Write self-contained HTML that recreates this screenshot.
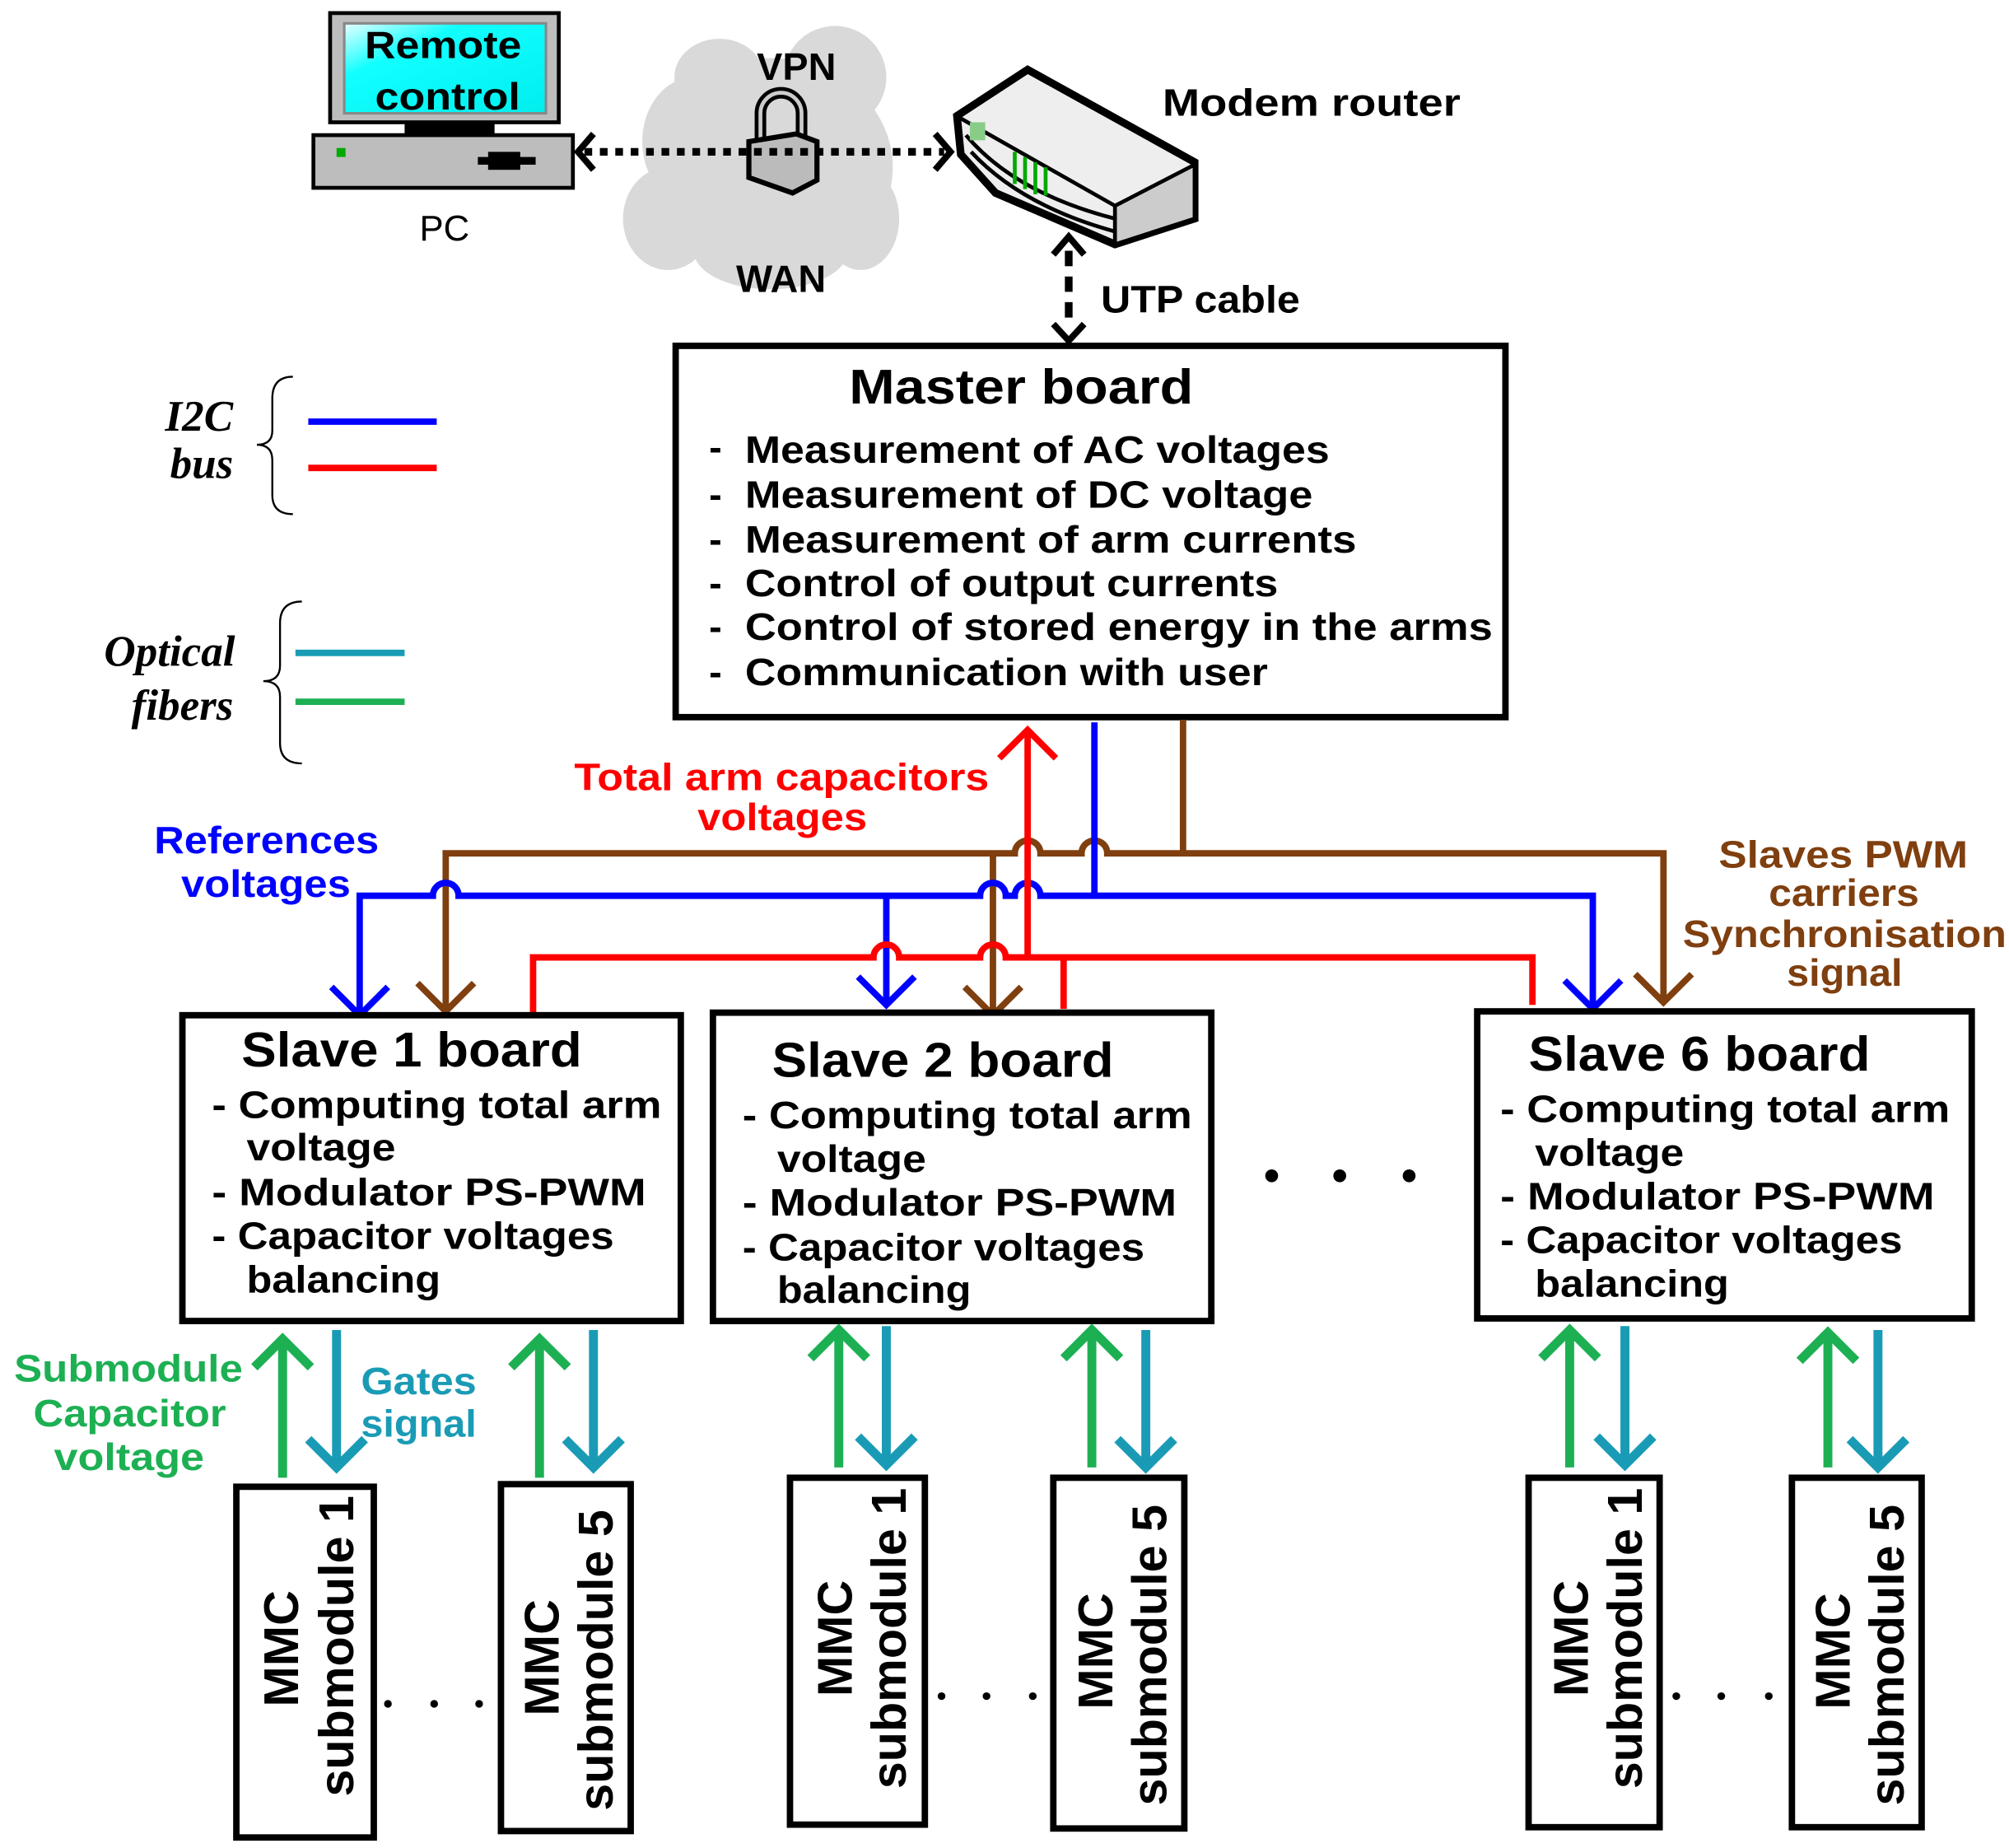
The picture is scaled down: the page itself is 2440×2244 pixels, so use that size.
<!DOCTYPE html>
<html><head><meta charset="utf-8"><style>
html,body{margin:0;padding:0;background:#fff;}
svg{display:block;}
text{font-family:"Liberation Sans",sans-serif;font-weight:bold;}
</style></head><body>
<svg width="2440" height="2244" viewBox="0 0 1564 1438" xmlns="http://www.w3.org/2000/svg">
<defs>
<linearGradient id="scr" x1="0" y1="0" x2="1" y2="1"><stop offset="0" stop-color="#e8ffff"/><stop offset="0.3" stop-color="#1ff"/><stop offset="1" stop-color="#0ee"/></linearGradient>
</defs>
<g fill="#d9d9d9">
<ellipse cx="600" cy="130" rx="95" ry="85"/>
<ellipse cx="540" cy="110" rx="40" ry="50"/>
<ellipse cx="650" cy="60" rx="40" ry="40"/>
<ellipse cx="520" cy="170" rx="35" ry="40"/>
<ellipse cx="600" cy="195" rx="60" ry="30"/>
<ellipse cx="670" cy="170" rx="30" ry="40"/>
<ellipse cx="560" cy="60" rx="35" ry="30"/>
</g>
<rect x="257" y="10" width="178" height="85" fill="#bdbdbd" stroke="#000" stroke-width="3"/>
<rect x="268" y="18" width="157" height="70" fill="url(#scr)" stroke="#888" stroke-width="2"/>
<text x="284" y="45" font-size="30" textLength="122" lengthAdjust="spacingAndGlyphs">Remote</text>
<text x="292" y="85" font-size="30" textLength="113" lengthAdjust="spacingAndGlyphs">control</text>
<rect x="315" y="95" width="70" height="9" fill="#000"/>
<rect x="244" y="105" width="202" height="41" fill="#bdbdbd" stroke="#000" stroke-width="3"/>
<rect x="262" y="115" width="7" height="7" fill="#0a0"/>
<rect x="372" y="122" width="45" height="6" fill="#000"/><rect x="380" y="118" width="25" height="14" fill="#000"/>
<text x="346" y="187" font-size="28" style="font-weight:normal" text-anchor="middle">PC</text>
<text x="620" y="62" font-size="30" text-anchor="middle">VPN</text>
<text x="608" y="227" font-size="30" text-anchor="middle">WAN</text>
<path d="M592 108 V88 a16 16 0 0 1 32 0 V108" fill="none" stroke="#000" stroke-width="9"/>
<path d="M592 108 V88 a16 16 0 0 1 32 0 V108" fill="none" stroke="#ccc" stroke-width="3"/>
<path d="M583 110 L620 104 L636 110 V140 L617 150 L583 138 Z" fill="#bbb" stroke="#000" stroke-width="4"/>
<line x1="455" y1="118" x2="735" y2="118" stroke="#000" stroke-width="6" stroke-dasharray="6,6"/>
<polyline points="462,104 450,118 462,132" fill="none" stroke="#000" stroke-width="5"/>
<polyline points="728,104 740,118 728,132" fill="none" stroke="#000" stroke-width="5"/>
<path d="M745 90 L800 54 L930 126 L930 170 L868 190 L775 150 L748 120 Z" fill="#eee" stroke="#000" stroke-width="6"/>
<path d="M748 92 L868 160 L930 130" fill="none" stroke="#000" stroke-width="3"/>
<path d="M868 160 L930 128 L930 170 L868 190 Z" fill="#ccc" stroke="#000" stroke-width="3"/>
<path d="M752 105 Q790 150 868 170 M756 118 Q795 160 868 180" fill="none" stroke="#000" stroke-width="3"/>
<rect x="755" y="95" width="12" height="14" fill="#8c8"/>
<path d="M790 118 v25 M798 122 v25 M806 126 v25 M814 130 v22" stroke="#0a0" stroke-width="3"/>
<text x="905" y="90" font-size="30" textLength="232" lengthAdjust="spacingAndGlyphs">Modem router</text>
<line x1="832" y1="195" x2="832" y2="255" stroke="#000" stroke-width="6" stroke-dasharray="12,8"/>
<polyline points="820,198 832,184 844,198" fill="none" stroke="#000" stroke-width="5"/>
<polyline points="820,252 832,265 844,252" fill="none" stroke="#000" stroke-width="5"/>
<text x="857" y="243" font-size="30" textLength="155" lengthAdjust="spacingAndGlyphs">UTP cable</text>
<rect x="526" y="269" width="646" height="289" fill="#fff" stroke="#000" stroke-width="5"/>
<text x="661" y="314" font-size="38" textLength="268" lengthAdjust="spacingAndGlyphs">Master board</text>
<g font-size="30">
<text x="552" y="358">-</text><text x="580" y="360" textLength="455" lengthAdjust="spacingAndGlyphs">Measurement of AC voltages</text>
<text x="552" y="395">-</text><text x="580" y="395" textLength="442" lengthAdjust="spacingAndGlyphs">Measurement of DC voltage</text>
<text x="552" y="430">-</text><text x="580" y="430" textLength="476" lengthAdjust="spacingAndGlyphs">Measurement of arm currents</text>
<text x="552" y="464">-</text><text x="580" y="464" textLength="415" lengthAdjust="spacingAndGlyphs">Control of output currents</text>
<text x="552" y="498">-</text><text x="580" y="498" textLength="582" lengthAdjust="spacingAndGlyphs">Control of stored energy in the  arms</text>
<text x="552" y="533">-</text><text x="580" y="533" textLength="407" lengthAdjust="spacingAndGlyphs">Communication with user</text>
</g>
<g font-style="italic" font-size="34" text-anchor="middle" style="font-family:'Liberation Serif',serif">
<text x="155" y="335" style="font-family:'Liberation Serif',serif">I2C</text>
<text x="157" y="372" style="font-family:'Liberation Serif',serif">bus</text>
<text x="132" y="518" style="font-family:'Liberation Serif',serif">Optical</text>
<text x="142" y="560" style="font-family:'Liberation Serif',serif">fibers</text>
</g>
<path d="M228 293 Q212 293 212 310 V335 Q212 346 200 346 Q212 346 212 358 V385 Q212 400 228 400" fill="none" stroke="#000" stroke-width="1.5"/>
<path d="M235 468 Q218 468 218 485 V518 Q218 530 205 530 Q218 530 218 542 V578 Q218 594 235 594" fill="none" stroke="#000" stroke-width="1.5"/>
<line x1="240" y1="328" x2="340" y2="328" stroke="#00f" stroke-width="5"/>
<line x1="240" y1="364" x2="340" y2="364" stroke="#f00" stroke-width="5"/>
<line x1="230" y1="508" x2="315" y2="508" stroke="#1a9bb5" stroke-width="5"/>
<line x1="230" y1="546" x2="315" y2="546" stroke="#1db053" stroke-width="5"/>
<g fill="#f00" font-size="30"><text x="447" y="615" textLength="323" lengthAdjust="spacingAndGlyphs">Total arm capacitors</text><text x="543" y="646" textLength="132" lengthAdjust="spacingAndGlyphs">voltages</text></g>
<g fill="#00f" font-size="30"><text x="120" y="664" textLength="175" lengthAdjust="spacingAndGlyphs">References</text><text x="141" y="698" textLength="132" lengthAdjust="spacingAndGlyphs">voltages</text></g>
<g fill="#7f3f0f" font-size="30"><text x="1338" y="675" textLength="194" lengthAdjust="spacingAndGlyphs">Slaves PWM</text><text x="1377" y="705" textLength="117" lengthAdjust="spacingAndGlyphs">carriers</text><text x="1310" y="737" textLength="252" lengthAdjust="spacingAndGlyphs">Synchronisation</text><text x="1391" y="767" textLength="90" lengthAdjust="spacingAndGlyphs">signal</text></g>
<g fill="none" stroke="#7f3f0f" stroke-width="5">
<path d="M921 560 V664 M347 785 V664 H790 a10 10 0 0 1 20 0 H842 a10 10 0 0 1 20 0 H1295 V778 M773 664 V788"/>
<polyline points="325,765 347,787 369,765"/><polyline points="751,768 773,790 795,768"/><polyline points="1273,758 1295,780 1317,758"/>
</g>
<g fill="none" stroke="#00f" stroke-width="5">
<path d="M852 562 V697 M280 790 V697 H337 a10 10 0 0 1 20 0 H763 a10 10 0 0 1 20 0 H790 a10 10 0 0 1 20 0 H1240 V785 M690 697 V782"/>
<polyline points="258,768 280,790 302,768"/><polyline points="668,760 690,782 712,760"/><polyline points="1218,763 1240,785 1262,763"/>
</g>
<g fill="none" stroke="#f00" stroke-width="5">
<path d="M415 790 V745 H680 a10 10 0 0 1 20 0 H763 a10 10 0 0 1 20 0 H1193 V782 M828 745 V785 M800 745 V570"/>
<polyline points="778,590 800,568 822,590"/>
</g>
<g fill="#fff" stroke="#000" stroke-width="5">
<rect x="142" y="790" width="388" height="238"/>
<rect x="555" y="788" width="388" height="240"/>
<rect x="1150" y="787" width="385" height="239"/>
</g>
<g font-size="30">
<text x="188" y="830" font-size="38" textLength="265" lengthAdjust="spacingAndGlyphs">Slave 1 board</text>
<text x="165" y="870" textLength="350" lengthAdjust="spacingAndGlyphs">- Computing total arm</text><text x="192" y="903" textLength="116" lengthAdjust="spacingAndGlyphs">voltage</text>
<text x="165" y="938" textLength="338" lengthAdjust="spacingAndGlyphs">- Modulator PS-PWM</text><text x="165" y="972" textLength="313" lengthAdjust="spacingAndGlyphs">- Capacitor voltages</text><text x="192" y="1006" textLength="151" lengthAdjust="spacingAndGlyphs">balancing</text>
<text x="601" y="838" font-size="38" textLength="266" lengthAdjust="spacingAndGlyphs">Slave 2 board</text>
<text x="578" y="878" textLength="350" lengthAdjust="spacingAndGlyphs">- Computing total arm</text><text x="605" y="912" textLength="116" lengthAdjust="spacingAndGlyphs">voltage</text>
<text x="578" y="946" textLength="338" lengthAdjust="spacingAndGlyphs">- Modulator PS-PWM</text><text x="578" y="981" textLength="313" lengthAdjust="spacingAndGlyphs">- Capacitor voltages</text><text x="605" y="1014" textLength="151" lengthAdjust="spacingAndGlyphs">balancing</text>
<text x="1190" y="833" font-size="38" textLength="266" lengthAdjust="spacingAndGlyphs">Slave 6 board</text>
<text x="1168" y="873" textLength="350" lengthAdjust="spacingAndGlyphs">- Computing total arm</text><text x="1195" y="907" textLength="116" lengthAdjust="spacingAndGlyphs">voltage</text>
<text x="1168" y="941" textLength="338" lengthAdjust="spacingAndGlyphs">- Modulator PS-PWM</text><text x="1168" y="975" textLength="313" lengthAdjust="spacingAndGlyphs">- Capacitor voltages</text><text x="1195" y="1009" textLength="151" lengthAdjust="spacingAndGlyphs">balancing</text>
</g>
<g fill="#000"><circle cx="990" cy="915" r="5"/><circle cx="1043" cy="915" r="5"/><circle cx="1097" cy="915" r="5"/></g>
<g fill="none" stroke-width="7">
<g stroke="#1db053">
<path d="M220 1150 V1042 M198 1064 L220 1042 L242 1064"/>
<path d="M420 1150 V1042 M398 1064 L420 1042 L442 1064"/>
<path d="M653 1142 V1035 M631 1057 L653 1035 L675 1057"/>
<path d="M850 1142 V1035 M828 1057 L850 1035 L872 1057"/>
<path d="M1222 1142 V1035 M1200 1057 L1222 1035 L1244 1057"/>
<path d="M1423 1142 V1037 M1401 1059 L1423 1037 L1445 1059"/>
</g>
<g stroke="#1a9bb5">
<path d="M262 1035 V1142 M240 1120 L262 1142 L284 1120"/>
<path d="M462 1035 V1142 M440 1120 L462 1142 L484 1120"/>
<path d="M690 1032 V1140 M668 1118 L690 1140 L712 1118"/>
<path d="M892 1035 V1142 M870 1120 L892 1142 L914 1120"/>
<path d="M1265 1032 V1140 M1243 1118 L1265 1140 L1287 1118"/>
<path d="M1462 1035 V1142 M1440 1120 L1462 1142 L1484 1120"/>
</g>
</g>
<g font-size="30">
<g fill="#1db053"><text x="11" y="1075" textLength="178" lengthAdjust="spacingAndGlyphs">Submodule</text><text x="26" y="1110" textLength="150" lengthAdjust="spacingAndGlyphs">Capacitor</text><text x="42" y="1144" textLength="117" lengthAdjust="spacingAndGlyphs">voltage</text></g>
<g fill="#1a9bb5"><text x="281" y="1085" textLength="90" lengthAdjust="spacingAndGlyphs">Gates</text><text x="281" y="1118" textLength="90" lengthAdjust="spacingAndGlyphs">signal</text></g>
</g>
<g fill="#fff" stroke="#000" stroke-width="5">
<rect x="184" y="1157" width="107" height="273"/><rect x="390" y="1155" width="101" height="270"/>
<rect x="615" y="1150" width="105" height="270"/><rect x="820" y="1150" width="102" height="273"/>
<rect x="1190" y="1150" width="102" height="272"/><rect x="1395" y="1150" width="101" height="272"/>
</g>
<g font-size="38" text-anchor="middle">
<text transform="translate(232,1283) rotate(-90)">MMC</text><text transform="translate(275,1281) rotate(-90)">submodule 1</text>
<text transform="translate(435,1290) rotate(-90)">MMC</text><text transform="translate(477,1292) rotate(-90)">submodule 5</text>
<text transform="translate(663,1275) rotate(-90)">MMC</text><text transform="translate(705,1275) rotate(-90)">submodule 1</text>
<text transform="translate(866,1285) rotate(-90)">MMC</text><text transform="translate(908,1288) rotate(-90)">submodule 5</text>
<text transform="translate(1236,1275) rotate(-90)">MMC</text><text transform="translate(1278,1275) rotate(-90)">submodule 1</text>
<text transform="translate(1440,1285) rotate(-90)">MMC</text><text transform="translate(1482,1288) rotate(-90)">submodule 5</text>
</g>
<g fill="#000">
<circle cx="302" cy="1326" r="3"/><circle cx="338" cy="1326" r="3"/><circle cx="373" cy="1326" r="3"/>
<circle cx="733" cy="1320" r="3"/><circle cx="768" cy="1320" r="3"/><circle cx="804" cy="1320" r="3"/>
<circle cx="1305" cy="1320" r="3"/><circle cx="1340" cy="1320" r="3"/><circle cx="1377" cy="1320" r="3"/>
</g>
</svg>
</body></html>
